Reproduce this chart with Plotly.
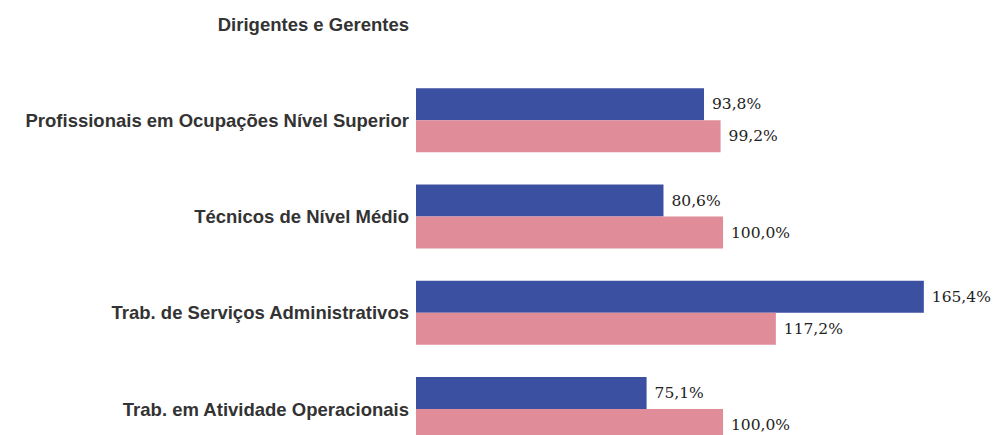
import plotly.graph_objects as go

categories = [
    "Dirigentes e Gerentes",
    "Profissionais em Ocupações Nível Superior",
    "Técnicos de Nível Médio",
    "Trab. de Serviços Administrativos",
    "Trab. em Atividade Operacionais",
]
series_a = [None, 93.8, 80.6, 165.4, 75.1]
series_b = [None, 99.2, 100.0, 117.2, 100.0]

def fmt(v):
    return "" if v is None else "\u00a0" + f"{v:.1f}".replace(".", ",") + "%"

label_font = dict(family="DejaVu Serif, Liberation Serif, serif", size=15.5, color="#222222")

fig = go.Figure()
fig.add_trace(go.Bar(
    y=categories, x=series_a, orientation="h",
    marker=dict(color="#3C50A1", line=dict(width=0)),
    text=[fmt(v) for v in series_a], textposition="outside",
    textfont=label_font, cliponaxis=False, showlegend=False,
))
fig.add_trace(go.Bar(
    y=categories, x=series_b, orientation="h",
    marker=dict(color="#E08C99", line=dict(width=0)),
    text=[fmt(v) for v in series_b], textposition="outside",
    textfont=label_font, cliponaxis=False, showlegend=False,
))

fig.update_layout(
    width=1000, height=435,
    margin=dict(l=416, r=0, t=0, b=0),
    barmode="group", bargap=0.335, bargroupgap=0,
    plot_bgcolor="white", paper_bgcolor="white",
    xaxis=dict(range=[0, 190.2], visible=False, showgrid=False, zeroline=False),
    yaxis=dict(
        type="category", range=[4.27, -0.25],
        showgrid=False, zeroline=False, showline=False, ticks="",
        ticklabelstandoff=6,
        tickfont=dict(family="Liberation Sans, Arial, sans-serif", size=18.5, color="#333333", weight="bold"),
    ),
)

fig.write_html("out.html")
